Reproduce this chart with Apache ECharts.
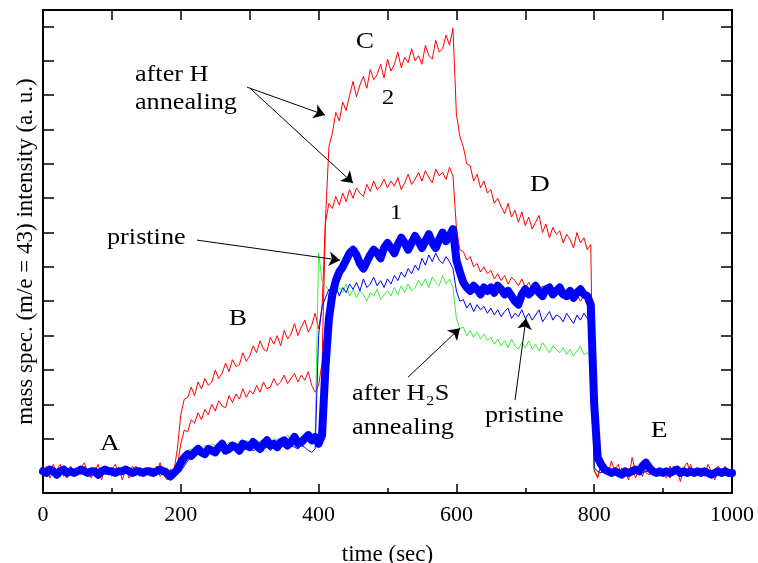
<!DOCTYPE html>
<html><head><meta charset="utf-8">
<script src="https://cdn.jsdelivr.net/npm/echarts@6/dist/echarts.min.js"></script>
<style>html,body{margin:0;padding:0;background:#fff}#c{width:758px;height:563px}</style>
</head><body><div id="c"></div>
<script>
// sampling grid: one reading every 5 s, 0..1000 s
const time = Array.from({length: 201}, (_, i) => i * 5);

// y ticks (arbitrary units, unlabeled)
const yTicks = [0,20,40,60,80,100,120,140,160,180,200,220,240,260];

// after H annealing, curve "2"
const redH2 = [
 3,-2,1,5,-1,2,0,-3,4,1,
 -1,3,6,0,-2,2,1,-4,3,0,
 2,5,-1,0,3,-3,1,4,-2,2,
 0,-2,3,1,6,-1,-4,2,1,14,
 34,43,44,50,45,53,49,55,51,53,
 60,55,58,64,59,66,62,63,70,65,
 68,74,70,77,72,71,79,75,80,74,
 83,78,81,87,80,85,89,82,86,93,
 84,96,148,190,198,210,205,216,211,220,
 228,219,226,231,224,235,229,232,238,230,
 241,234,238,245,236,242,239,247,240,243,
 238,249,243,241,252,245,247,255,249,259,
 209,196,190,180,179,170,174,166,170,163,
 165,157,160,155,151,157,149,153,146,152,
 144,149,142,146,150,140,145,137,143,139,
 141,134,139,136,131,140,134,137,130,133,
 2,-3,5,0,-1,7,1,-2,3,0,
 -4,9,1,2,-2,4,6,-1,0,3,
 1,-3,4,0,2,-5,3,6,-1,2,
 0,3,-2,5,1,-4,2,-1,4,0,
 2
];

// after H annealing, curve "1"
const redH1 = [
 0,4,-3,1,2,5,-2,0,3,-1,
 2,-1,4,0,-3,1,5,-2,1,3,
 -2,1,3,-4,2,0,4,1,-1,2,
 3,-1,0,4,-2,1,3,-3,0,4,
 17,25,24,31,29,35,31,37,34,40,
 36,42,39,38,45,41,46,43,49,44,
 48,46,51,47,53,49,50,55,51,53,
 57,52,55,58,53,57,54,59,51,47,
 51,64,146,157,154,161,156,163,158,165,
 160,166,163,161,168,164,170,165,167,171,
 166,170,167,172,165,169,174,168,171,175,
 170,176,172,169,177,173,175,171,178,173,
 143,130,129,124,126,120,122,117,120,116,
 118,113,116,112,115,110,114,112,109,113,
 108,111,107,110,106,109,105,108,104,107,
 103,106,102,105,101,104,100,103,99,101,
 1,-2,4,0,3,-1,2,5,-2,1,
 0,3,-3,2,6,0,-1,3,1,-2,
 2,0,-3,4,1,-1,3,0,5,-2,
 1,-1,3,0,-3,2,4,-1,1,0,
 1
];

// after H2S annealing
const h2s = [
 1,0,2,1,-1,1,2,0,1,0,
 2,1,0,1,2,-1,1,0,2,1,
 0,1,2,0,1,1,-1,2,0,1,
 1,0,2,1,0,1,2,-1,1,3,
 8,11,13,14,13,15,14,16,15,17,
 16,15,17,16,18,17,16,18,17,19,
 18,17,19,18,17,19,18,20,19,18,
 20,22,19,20,21,20,22,21,22,21,
 128,112,109,106,110,104,108,105,110,103,
 107,102,106,104,100,105,103,107,101,104,
 106,103,108,104,109,105,110,106,108,112,
 109,113,108,114,111,109,115,110,113,108,
 90,84,85,80,83,79,82,78,81,77,
 79,75,78,74,77,73,78,74,72,76,
 73,77,72,75,71,76,73,70,74,72,
 70,73,69,72,68,71,74,69,70,67,
 2,1,0,2,1,-1,1,0,2,1,
 0,1,2,1,0,2,1,-1,1,0,
 1,2,0,1,1,0,2,1,0,1,
 2,0,1,1,2,0,1,0,1,2,
 1
];

// pristine (thin)
const pristineThin = [
 1,0,1,2,0,1,-1,1,0,2,
 1,0,1,0,2,1,0,1,-1,1,
 0,1,2,0,1,0,1,2,0,1,
 1,0,1,2,0,1,0,-1,1,0,
 1,4,7,9,10,12,11,13,12,13,
 12,14,13,12,14,13,15,14,13,14,
 15,13,14,16,14,15,13,15,14,16,
 15,14,16,15,14,16,15,13,12,14,
 80,97,102,107,104,109,103,108,105,110,
 107,111,106,113,108,110,114,109,112,108,
 113,110,115,112,117,114,119,116,121,118,
 125,121,127,123,128,124,122,126,123,119,
 106,100,101,96,99,94,98,95,97,93,
 96,92,95,91,94,96,90,93,91,95,
 90,93,89,92,95,88,91,94,89,92,
 91,88,93,90,87,92,89,93,90,91,
 3,1,0,2,1,0,1,2,0,1,
 1,0,2,1,0,1,1,0,2,1,
 0,1,1,2,0,1,0,1,2,0,
 1,0,2,1,0,1,2,0,1,1,
 1
];

// pristine (thick)
const pristineThick = [
 1,0,2,1,-1,1,2,0,1,0,
 1,2,1,0,1,1,-1,1,2,1,
 1,0,1,1,2,1,0,1,1,0,
 1,1,0,1,2,1,0,-2,0,2,
 6,9,11,10,12,14,12,11,14,13,
 12,15,17,13,14,16,15,13,17,16,
 15,18,16,14,17,19,16,17,15,18,
 19,16,18,21,17,18,20,22,19,21,
 17,22,62,90,104,112,117,120,124,128,
 130,127,122,119,123,127,130,128,125,131,
 134,131,128,133,137,134,130,134,138,135,
 131,135,139,134,131,136,140,135,138,142,
 124,117,111,108,106,109,107,104,108,106,
 108,105,109,107,104,106,103,100,98,104,
 107,104,106,109,105,103,107,108,104,106,
 108,104,103,106,102,105,107,104,103,98,
 40,9,5,2,1,0,1,0,-1,1,
 0,1,2,1,4,6,3,1,0,1,
 0,1,0,1,2,0,1,0,1,0,
 1,0,1,0,-1,0,1,0,1,0,
 0
];

// annotation arrows: [fromTime, fromValue, toTime, toValue]
const arrows = [
 [296, 224.7, 409.3, 208.4],
 [300.4, 224.1, 449.9, 168.8],
 [223.5, 135.6, 431.1, 123.9],
 [529.8, 55.8, 605.2, 84.3],
 [685.1, 42.4, 701.0, 90.1]
];

// annotation texts: [text, time, value, align, fontSize]
const notes = [
 ['A', 97.2, 17.3, 'center', 24],
 ['B', 283, 90.1, 'center', 24],
 ['C', 467.3, 250.9, 'center', 24],
 ['2', 500.7, 218.3, 'center', 22],
 ['1', 512.3, 151.3, 'center', 22],
 ['D', 721.3, 167.6, 'center', 24],
 ['E', 894.1, 24.9, 'center', 24],
 ['after H', 133.5, 231.6, 'left', 23],
 ['annealing', 133.5, 215.7, 'left', 23],
 ['pristine', 92.9, 136.7, 'left', 23],
 ['after H\u2082S', 448.5, 45.8, 'left', 23],
 ['annealing', 448.5, 26, 'left', 23],
 ['pristine', 641.5, 33, 'left', 23]
];

const serif = '"Liberation Serif", "Times New Roman", serif';
const yMin = -11.66, yMax = 269.6;
const pairs = vals => time.map((t, i) => [t, vals[i]]);
const axLine = {show: true, onZero: false, lineStyle: {color: '#000', width: 2}};

const chart = echarts.init(document.getElementById('c'), null, {renderer: 'canvas'});
const option = {
  animation: false,
  backgroundColor: '#fff',
  grid: {left: 43, right: 26, top: 10, bottom: 70, containLabel: false, outerBoundsMode: 'none'},
  xAxis: [
    {type: 'value', min: 0, max: 1000, interval: 200, position: 'bottom',
     axisLine: axLine,
     axisTick: {show: true, inside: true, length: 9, lineStyle: {color: '#000', width: 1.5}},
     minorTick: {show: true, splitNumber: 2, length: 5, lineStyle: {color: '#000', width: 1.5}},
     splitLine: {show: false}, minorSplitLine: {show: false},
     axisLabel: {color: '#000', fontFamily: serif, fontSize: 22, margin: 11, formatter: v => String(v)},
     name: 'time (sec)', nameLocation: 'middle', nameGap: 50,
     nameTextStyle: {color: '#000', fontFamily: serif, fontSize: 23}},
    {type: 'value', min: 0, max: 1000, interval: 100, position: 'top',
     axisLine: axLine,
     axisTick: {show: true, inside: true, length: 10, lineStyle: {color: '#000', width: 1.5}},
     axisLabel: {show: false}, splitLine: {show: false}}
  ],
  yAxis: [
    {type: 'value', min: yMin, max: yMax, position: 'left',
     axisLine: axLine,
     axisTick: {show: true, inside: true, length: 11, customValues: yTicks, lineStyle: {color: '#000', width: 1.5}},
     axisLabel: {show: false}, splitLine: {show: false},
     name: 'mass spec. (m/e = 43) intensity (a. u.)', nameLocation: 'middle', nameGap: 6,
     nameTextStyle: {color: '#000', fontFamily: serif, fontSize: 23}},
    {type: 'value', min: yMin, max: yMax, position: 'right',
     axisLine: axLine,
     axisTick: {show: true, inside: true, length: 11, customValues: yTicks, lineStyle: {color: '#000', width: 1.5}},
     axisLabel: {show: false}, splitLine: {show: false}}
  ],
  series: [
    {name: 'after H annealing 2', type: 'line', data: pairs(redH2), showSymbol: false, silent: true,
     lineStyle: {color: '#ff0000', width: 1}, itemStyle: {color: '#ff0000'}, z: 2},
    {name: 'after H annealing 1', type: 'line', data: pairs(redH1), showSymbol: false, silent: true,
     lineStyle: {color: '#ff0000', width: 1}, itemStyle: {color: '#ff0000'}, z: 2},
    {name: 'after H2S annealing', type: 'line', data: pairs(h2s), showSymbol: false, silent: true,
     lineStyle: {color: '#22ee22', width: 0.9}, itemStyle: {color: '#22ee22'}, z: 3,
     markLine: {silent: true, symbol: ['none', 'arrow'], symbolSize: 11, animation: false,
       label: {show: false}, emphasis: {disabled: true},
       lineStyle: {color: '#000', width: 1, type: 'solid'},
       data: arrows.map(a => [{coord: [a[0], a[1]]}, {coord: [a[2], a[3]]}])}},
    {name: 'pristine thin', type: 'line', data: pairs(pristineThin), showSymbol: false, silent: true,
     lineStyle: {color: '#0000ff', width: 1}, itemStyle: {color: '#0000ff'}, z: 4},
    {name: 'pristine', type: 'line', data: pairs(pristineThick), showSymbol: false, silent: true,
     lineStyle: {color: '#0000ff', width: 8, cap: 'round', join: 'round'}, itemStyle: {color: '#0000ff'}, z: 5}
  ]
};
chart.setOption(option);

const els = notes.map(n => {
  const p = chart.convertToPixel({gridIndex: 0}, [n[1], n[2]]);
  return {type: 'text', x: p[0], y: p[1], scaleX: 1.14, silent: true, z: 100,
    style: {text: n[0], font: n[4] + 'px "Liberation Serif"', fill: '#000',
      align: n[3], verticalAlign: 'middle', textAlign: n[3], textVerticalAlign: 'middle'}};
});
chart.setOption({graphic: {elements: els}});
</script>
</body></html>
